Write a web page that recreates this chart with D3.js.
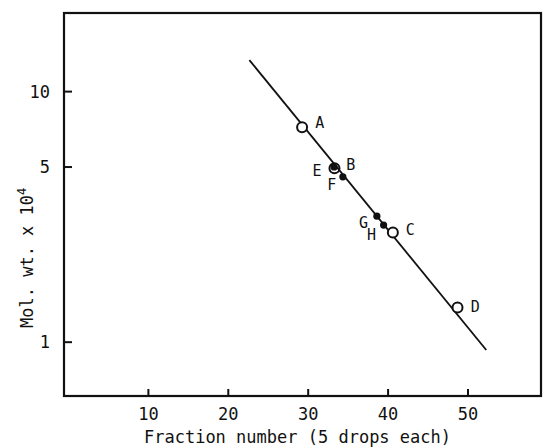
<!DOCTYPE html>
<html>
<head>
<meta charset="utf-8">
<script src="https://cdn.jsdelivr.net/npm/d3@7/dist/d3.min.js"></script>
<style>
  html, body { margin: 0; padding: 0; background: #fff; }
  svg { display: block; }
  text { font-family: "DejaVu Sans Mono", "Liberation Mono", monospace; fill: #111; }
</style>
</head>
<body>
<svg id="chart" width="544" height="447"></svg>
<script>
// Fractions and molecular weights (x 10^4) of the calibration proteins
const labels    = ["A", "E", "B", "F", "G", "H", "C", "D"];
const fractions = [29.3, 33.3, 33.35, 34.4, 38.66, 39.5, 40.66, 48.75];
const molWts    = [7.17, 4.98, 4.92, 4.55, 3.17, 2.92, 2.73, 1.37];
const filled    = [false, true, false, true, true, true, false, false];

// Fitted calibration line (end points)
const lineFractions = [22.7, 52.35];
const lineMolWts    = [13.3, 0.926];

// Axis ticks
const xTicks = [10, 20, 30, 40, 50];
const yTicks = [1, 5, 10];

// Label offsets from their points (px)
const labelOffsets = {
  A: [17.6, -4], B: [16.4, -3.3], E: [-17, 4.4], F: [-11, 8.3],
  G: [-13.4, 6.7], H: [-12, 10], C: [17.3, -2.3], D: [17.7, 0]
};

const svg = d3.select("#chart");
const plot = { left: 64, right: 541, top: 13, bottom: 396 };

const x = d3.scaleLinear().domain([-0.5, 59.2]).range([plot.left, plot.right]);
const y = d3.scaleLog().domain([0.607, 20.5]).range([plot.bottom, plot.top]);

// Frame
svg.append("rect")
  .attr("x", plot.left).attr("y", plot.top)
  .attr("width", plot.right - plot.left).attr("height", plot.bottom - plot.top)
  .attr("fill", "none").attr("stroke", "#111").attr("stroke-width", 2.2);

// X axis (ticks pointing inward)
const gx = svg.append("g")
  .attr("transform", `translate(0,${plot.bottom})`)
  .call(d3.axisBottom(x).tickValues(xTicks).tickSizeInner(-7).tickSizeOuter(0).tickFormat(d3.format("d")));
gx.select(".domain").remove();
gx.selectAll(".tick line").attr("stroke", "#111").attr("stroke-width", 2);
gx.selectAll(".tick text")
  .attr("y", 24).attr("dy", 0)
  .style("font-size", "17px")
  .style("font-family", "DejaVu Sans Mono, monospace")
  .attr("fill", "#111");

// Y axis (log scale, ticks pointing inward)
const gy = svg.append("g")
  .attr("transform", `translate(${plot.left},0)`)
  .call(d3.axisLeft(y).tickValues(yTicks).tickSizeInner(-8).tickSizeOuter(0).tickFormat(d3.format("d")));
gy.select(".domain").remove();
gy.selectAll(".tick line").attr("stroke", "#111").attr("stroke-width", 2);
gy.selectAll(".tick text")
  .attr("x", -14).attr("dy", "0.35em")
  .style("font-size", "17px")
  .style("font-family", "DejaVu Sans Mono, monospace")
  .attr("fill", "#111");

// Axis titles
svg.append("text")
  .attr("x", 297.5).attr("y", 443)
  .attr("text-anchor", "middle")
  .style("font-size", "17px")
  .text("Fraction number (5 drops each)");

const yTitle = svg.append("text")
  .attr("transform", "translate(33,328) rotate(-90)")
  .attr("text-anchor", "start")
  .style("font-size", "17px");
yTitle.append("tspan").text("Mol. wt. x 10");
yTitle.append("tspan").attr("dy", -7).style("font-size", "12px").text("4");

// Calibration line
const lineData = lineFractions.map((f, i) => [f, lineMolWts[i]]);
svg.append("path")
  .datum(lineData)
  .attr("d", d3.line().x(d => x(d[0])).y(d => y(d[1])))
  .attr("fill", "none").attr("stroke", "#111").attr("stroke-width", 1.8);

// Points
const pts = labels.map((l, i) => ({ label: l, f: fractions[i], m: molWts[i], filled: filled[i] }));

svg.append("g").selectAll("circle.solid")
  .data(pts.filter(d => d.filled))
  .join("circle")
  .attr("cx", d => x(d.f)).attr("cy", d => y(d.m))
  .attr("r", 3.6)
  .attr("fill", "#111");

svg.append("g").selectAll("circle.open")
  .data(pts.filter(d => !d.filled))
  .join("circle")
  .attr("cx", d => x(d.f)).attr("cy", d => y(d.m))
  .attr("r", 5)
  .attr("fill", d => d.label === "B" ? "none" : "#fff")
  .attr("stroke", "#111").attr("stroke-width", 2);

// Point labels
svg.append("g").selectAll("text")
  .data(pts)
  .join("text")
  .attr("x", d => x(d.f) + labelOffsets[d.label][0])
  .attr("y", d => y(d.m) + labelOffsets[d.label][1])
  .attr("text-anchor", "middle")
  .attr("dominant-baseline", "central")
  .style("font-size", "15px")
  .text(d => d.label);
</script>
</body>
</html>
